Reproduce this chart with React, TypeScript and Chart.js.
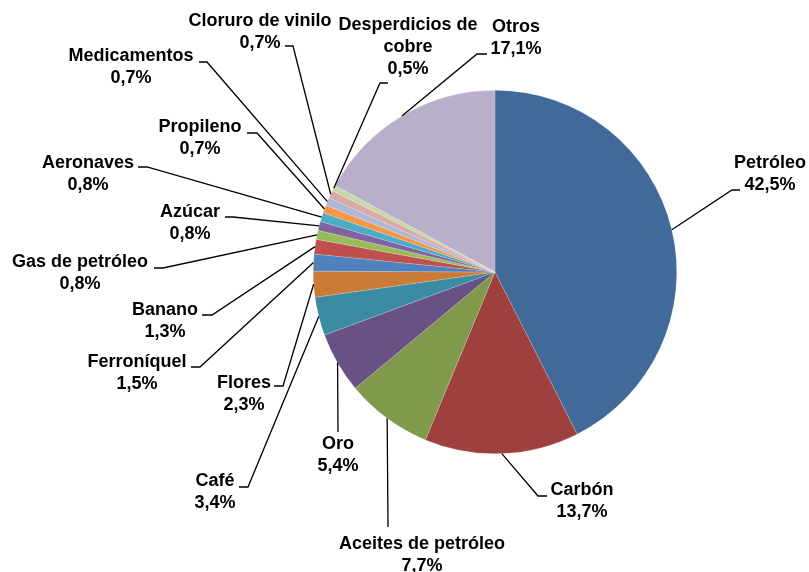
import React, { useEffect, useRef } from "react";
import { Chart, registerables } from "chart.js";

Chart.register(...registerables);

const categories = [
  "Petróleo",
  "Carbón",
  "Aceites de petróleo",
  "Oro",
  "Café",
  "Flores",
  "Ferroníquel",
  "Banano",
  "Gas de petróleo",
  "Azúcar",
  "Aeronaves",
  "Propileno",
  "Medicamentos",
  "Cloruro de vinilo",
  "Desperdicios de cobre",
  "Otros",
];

const shares = [42.5, 13.7, 7.7, 5.4, 3.4, 2.3, 1.5, 1.3, 0.8, 0.8, 0.8, 0.7, 0.7, 0.7, 0.5, 17.1];

const sliceColors = [
  "#41699A",
  "#9E413E",
  "#80994A",
  "#695185",
  "#3B8CA3",
  "#CB7B36",
  "#4F81BD",
  "#C0504D",
  "#9BBB59",
  "#8064A2",
  "#4BACC6",
  "#F79646",
  "#AAB9DA",
  "#DAA9A8",
  "#C6D7A8",
  "#B9AFCB",
];

// label name lines (the name may be split over lines)
const nameLines = [
  ["Petróleo"],
  ["Carbón"],
  ["Aceites de petróleo"],
  ["Oro"],
  ["Café"],
  ["Flores"],
  ["Ferroníquel"],
  ["Banano"],
  ["Gas de petróleo"],
  ["Azúcar"],
  ["Aeronaves"],
  ["Propileno"],
  ["Medicamentos"],
  ["Cloruro de vinilo"],
  ["Desperdicios de", "cobre"],
  ["Otros"],
];

// layout: label centre (x, first-line y), leader elbow and leader end
const labelLayout = [
  { cx: 770, cy: 163, ex: 732, ey: 190, lx: 740 },
  { cx: 582, cy: 490, ex: 538, ey: 496, lx: 547 },
  { cx: 422, cy: 544, ex: 388, ey: 527, lx: 388 },
  { cx: 338, cy: 444, ex: 338, ey: 432, lx: 338 },
  { cx: 215, cy: 481, ex: 248, ey: 487, lx: 239 },
  { cx: 244, cy: 383, ex: 283, ey: 386, lx: 274 },
  { cx: 137, cy: 362, ex: 200, ey: 367, lx: 191 },
  { cx: 165, cy: 310, ex: 212, ey: 315, lx: 202 },
  { cx: 80, cy: 262, ex: 163, ey: 268, lx: 154 },
  { cx: 190, cy: 212, ex: 233, ey: 217, lx: 225 },
  { cx: 88, cy: 163, ex: 147, ey: 167, lx: 138 },
  { cx: 200, cy: 127, ex: 257, ey: 133, lx: 247 },
  { cx: 131, cy: 56, ex: 207, ey: 62, lx: 199 },
  { cx: 260, cy: 21, ex: 293, ey: 46, lx: 285 },
  { cx: 408, cy: 25, ex: 380, ey: 83, lx: 388 },
  { cx: 516, cy: 27, ex: 477, ey: 54, lx: 487 },
];

const fmt = (v: number) => v.toFixed(1).replace(".", ",") + "%";

const labelPlugin = {
  id: "excelLabels",
  afterDraw(chart: any) {
    const ctx = chart.ctx;
    const meta = chart.getDatasetMeta(0);
    ctx.save();
    ctx.strokeStyle = "#000";
    ctx.lineWidth = 1.3;
    meta.data.forEach((arc: any, i: number) => {
      const p = arc.getProps(["x", "y", "startAngle", "endAngle", "outerRadius"], true);
      const mid = (p.startAngle + p.endAngle) / 2;
      const sx = p.x + Math.cos(mid) * p.outerRadius;
      const sy = p.y + Math.sin(mid) * p.outerRadius;
      const L = labelLayout[i];
      ctx.beginPath();
      ctx.moveTo(sx, sy);
      ctx.lineTo(L.ex, L.ey);
      ctx.lineTo(L.lx, L.ey);
      ctx.stroke();
    });
    ctx.fillStyle = "#000";
    ctx.font = "bold 18px 'Liberation Sans', Arial, sans-serif";
    ctx.textAlign = "center";
    ctx.textBaseline = "middle";
    meta.data.forEach((_: any, i: number) => {
      const L = labelLayout[i];
      const lines = [...nameLines[i], fmt(shares[i])];
      lines.forEach((t, k) => ctx.fillText(t, L.cx, L.cy + k * 22));
    });
    ctx.restore();
  },
};

export default function App() {
  const ref = useRef<HTMLCanvasElement>(null);
  useEffect(() => {
    const chart = new Chart(ref.current!, {
      type: "pie",
      data: {
        labels: categories,
        datasets: [
          {
            data: shares,
            backgroundColor: sliceColors,
            borderColor: "rgba(255,255,255,0.35)",
            borderWidth: 0.5,
          },
        ],
      },
      options: {
        animation: false,
        responsive: false,
        layout: { padding: { top: 90, bottom: 118, left: 313, right: 132 } },
        plugins: { legend: { display: false }, tooltip: { enabled: false } },
      },
      plugins: [labelPlugin],
    });
    return () => chart.destroy();
  }, []);
  return (
    <div style={{ position: "fixed", left: 0, top: 0, width: 809, height: 572, background: "#fff" }}>
      <canvas ref={ref} width={809} height={572} style={{ width: 809, height: 572 }} />
    </div>
  );
}
